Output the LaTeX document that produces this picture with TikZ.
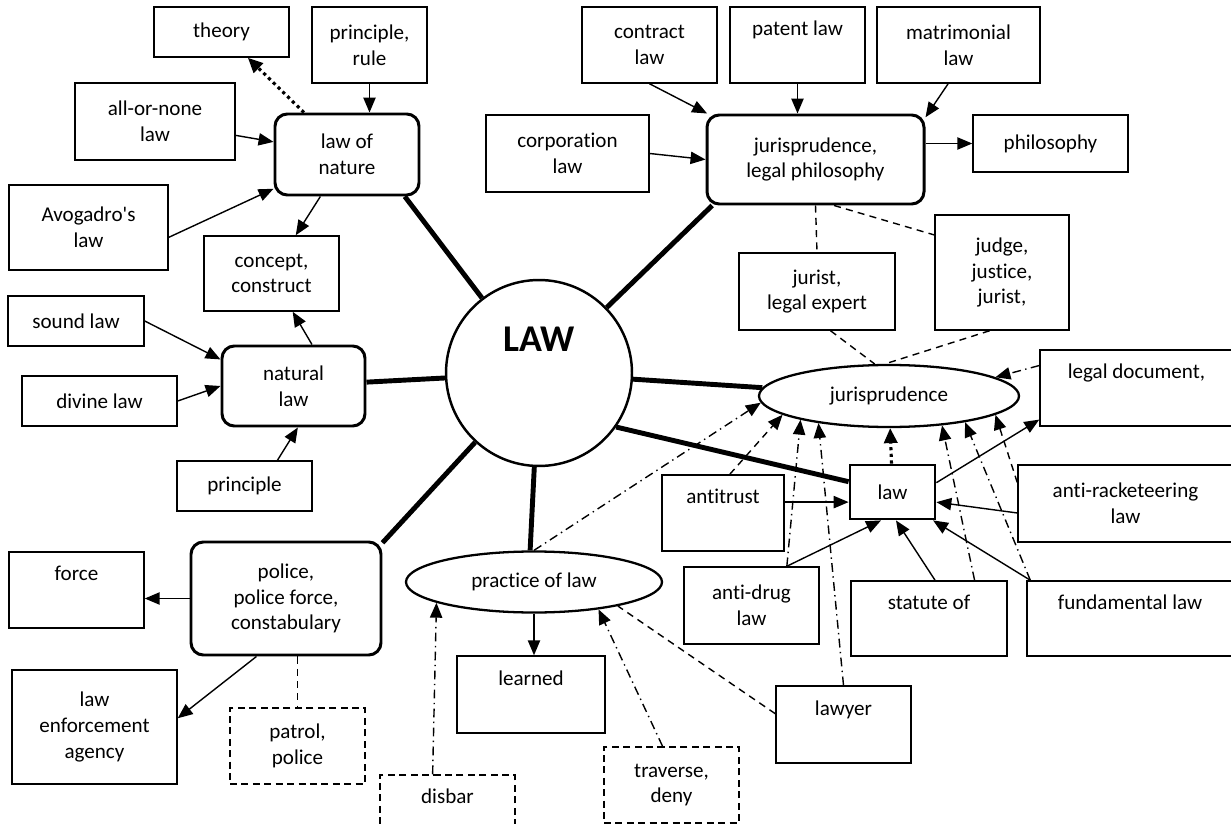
\documentclass[tikz,border=0pt]{standalone}
\usepackage{fontspec}
\setmainfont{Carlito}[Ligatures=NoCommon]
\usetikzlibrary{arrows.meta,shapes.geometric}

\begin{document}
\begin{tikzpicture}[x=0.02cm, y=-0.02cm,
  every node/.style={font=\fontsize{12}{14.6}\selectfont},
  box/.style={draw, line width=0.85pt, align=center, inner sep=2pt},
  rbox/.style={box, rounded corners=7pt, line width=1.7pt},
  dbox/.style={box, dash pattern=on 4pt off 2.5pt},
  oval/.style={draw, ellipse, line width=1.3pt, inner sep=1pt},
  hub/.style={draw, circle, line width=1.4pt, minimum size=3.72cm, font=\fontsize{21.5}{25}\selectfont\bfseries},
  sz/.style 2 args={minimum width=#1*0.02cm, minimum height=#2*0.02cm},
  arr/.style={-{Triangle[length=8.5pt,width=7pt]}, line width=0.8pt},
  dotarr/.style={-{Triangle[length=8.5pt,width=7.5pt]}, line width=1.8pt, dotted},
  spoke/.style={line width=2.8pt},
  dsh/.style={line width=0.8pt, dash pattern=on 4pt off 3pt},
  dd/.style={line width=0.8pt, dash pattern=on 5pt off 2.5pt on 0.8pt off 2.5pt}]
\useasboundingbox (0,0) rectangle (1231,824);
\clip (0,0) rectangle (1231,824);

\node[hub] (LAW) at (539,373) {\raisebox{12pt}[0pt][0pt]{LAW}};

\node[box, sz={135}{50}] (theory) at (221.5,32) {theory};
\node[box, sz={115}{76}] (prinrule) at (369.5,45) {principle,\\rule};
\node[box, sz={160}{77}] (allnone) at (155,121.5) {all-or-none\\law};
\node[rbox, sz={144}{81}] (lawnat) at (347,154.5) {law of\\nature};
\node[box, sz={159}{85}] (avog) at (88.5,227.5) {Avogadro\textquotesingle s\\law};
\node[box, sz={135}{75}] (concept) at (271.5,273.5) {concept,\\construct};
\node[box, sz={136}{50}] (sound) at (76,321) {sound law};
\node[box, sz={155}{50}] (divine) at (99.5,401) {divine law};
\node[rbox, sz={143}{80}] (natural) at (293.5,386) {natural\\law};
\node[box, sz={135}{50}] (princ) at (244.5,486) {principle};
\node[rbox, sz={190}{113}] (police) at (286,598.5) {police,\\police force,\\constabulary};
\node[box, sz={135}{76}] (force) at (76.5,590) {force\\\strut};
\node[box, sz={165}{114}] (lawenf) at (94.5,727) {law\\enforcement\\agency};
\node[dbox, sz={135}{76}] (patrol) at (297.5,746) {patrol,\\police};
\node[dbox, sz={135}{76}] (disbar) at (447.5,813) {disbar\\\strut};
\node[oval, sz={256}{61}] (practice) at (534,582) {practice of law};
\node[box, sz={148}{77}] (learned) at (531,694.5) {learned\\\strut};
\node[dbox, sz={135}{76}] (traverse) at (671.5,785) {traverse,\\deny};
\node[box, sz={135}{77}] (lawyer) at (843.5,724.5) {lawyer\\\strut};
\node[box, sz={135}{77}] (antidrug) at (751.5,605.5) {anti-drug\\law};
\node[box, sz={156}{75}] (statute) at (929,618.5) {statute of\\\strut};
\node[box, sz={206}{75}] (fund) at (1130,618.5) {fundamental law\\\strut};
\node[box, sz={122}{76}] (antitrust) at (723,513) {antitrust\\\strut};
\node[box, line width=1.6pt, sz={85}{54}] (law) at (892.5,492) {law};
\node[box, sz={215}{77}] (antirack) at (1125.5,503.5) {anti-racketeering\\law};
\node[box, sz={193}{76}] (legaldoc) at (1136.5,388) {legal document,\\\strut};
\node[oval, sz={260}{62}] (jurispr) at (889,396) {jurisprudence};
\node[box, sz={156}{77}] (jurist) at (817,291.5) {jurist,\\legal expert};
\node[box, sz={134}{115}] (judge) at (1002,272.5) {judge,\\justice,\\jurist,};
\node[rbox, sz={217}{89}] (jurphil) at (815.5,159.5) {jurisprudence,\\legal philosophy};
\node[box, sz={155}{57}] (philo) at (1050.5,143.5) {philosophy};
\node[box, sz={163}{77}] (corp) at (567.5,153.5) {corporation\\law};
\node[box, sz={135}{76}] (contract) at (649.5,45) {contract\\law};
\node[box, sz={135}{76}] (patent) at (797.5,45) {patent law\\\strut};
\node[box, sz={163}{76}] (matri) at (958.5,45) {matrimonial\\law};

\draw[spoke] (LAW) -- (lawnat.-36);
\draw[spoke] (LAW) -- (natural);
\draw[spoke] (LAW) -- (police.30);
\draw[spoke] (LAW) -- (practice.97);
\draw[spoke] (LAW) -- (jurphil.204);
\draw[spoke] (LAW) -- (jurispr);
\draw[spoke] (LAW.-35) -- (law);

\draw[arr] (prinrule.south) -- (prinrule.south |- lawnat.north);
\draw[arr] (allnone) -- (lawnat);
\draw[arr] (avog.-7) -- (lawnat.205);
\draw[dotarr] (lawnat) -- (theory);
\draw[arr] (lawnat) -- (concept);
\draw[arr] (natural.66) -- (concept.-61);
\draw[arr] (sound.east) -- (natural.160);
\draw[arr] (divine.east) -- (natural.west);
\draw[arr] (princ.38) -- (natural.-84);

\draw[arr] (police.west) -- (police.west -| force.east);
\draw[arr] (police.-117) -- (lawenf.6);
\draw[dsh] (patrol.north |- police.south) -- (patrol.north);

\draw[arr] (practice.south) -- (practice.south |- learned.north);
\draw[dd, arr] (disbar.111) -- (practice.192);
\draw[dd, arr] (traverse.103) -- (practice.-23);
\draw[dsh] (lawyer.171) -- (practice.-16);

\draw[dd, arr] (practice.north) -- (jurispr.183);
\draw[dsh, arr] (antitrust.80) -- (jurispr.190);
\draw[dd, arr] (antidrug.48) -- (jurispr.195);
\draw[dd, arr] (lawyer.north) -- (jurispr.201);
\draw[dd, arr] (statute.40) -- (jurispr.-29);
\draw[dd, arr] (fund.159) -- (jurispr.-19);
\draw[dsh, arr] (antirack.169) -- (jurispr.-10);
\draw[dotarr] (law) -- (jurispr);
\draw[dd, arr] (legaldoc.167) -- (jurispr.10);

\draw[arr] (antitrust.10) -- (antitrust.10 -| law.west);
\draw[arr] (antirack.185) -- (law.-13);
\draw[arr] (antidrug.48) -- (law.-112);
\draw[arr] (statute.81) -- (law.-83);
\draw[arr] (fund.159) -- (law.-35);
\draw[arr] (law.12) -- (legaldoc.198);

\draw[dsh] (jurphil.south) -- (jurist.north);
\draw[dsh] (jurphil.-68) -- (judge.151);
\draw[dsh] (jurist.-71) -- (jurispr.114);
\draw[dsh] (judge.-102) -- (jurispr.97);

\draw[arr] (contract.south) -- (jurphil.157);
\draw[arr] (patent.south) -- (patent.south |- jurphil.north);
\draw[arr] (matri.-105) -- (jurphil.21);
\draw[arr] (corp.east) -- (jurphil.west);
\draw[arr] (jurphil.east |- philo.west) -- (philo.west);
\end{tikzpicture}
\end{document}
